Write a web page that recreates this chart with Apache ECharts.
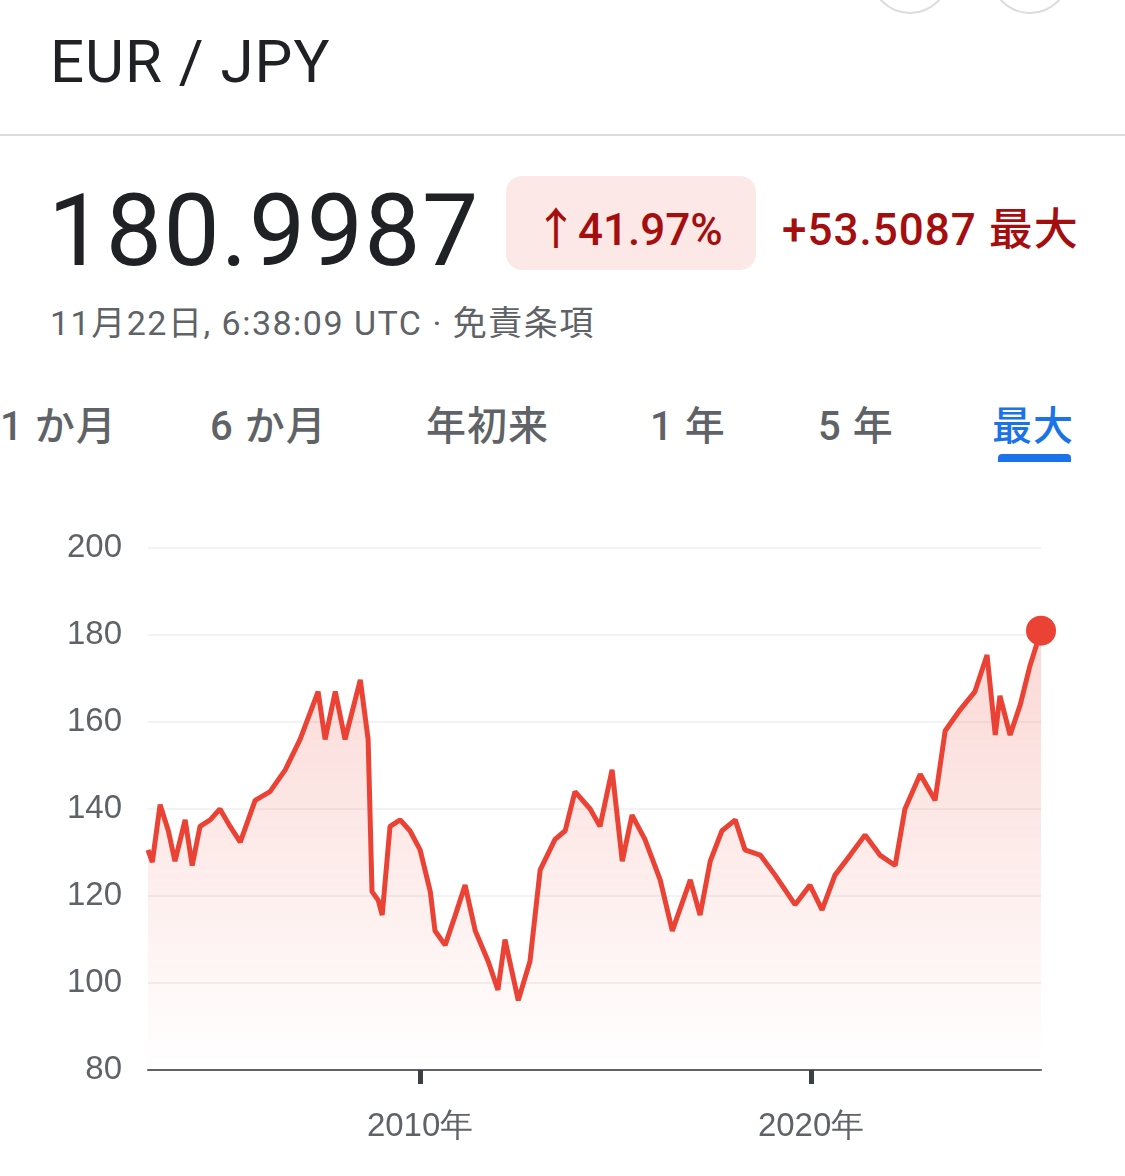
<!DOCTYPE html>
<html><head><meta charset="utf-8">
<script src="https://cdn.jsdelivr.net/npm/echarts@6.0.0/dist/echarts.min.js"></script>
<style>
body{margin:0;width:1125px;height:1176px;background:#fff;font-family:Roboto,"Noto Sans CJK JP",sans-serif;position:relative;overflow:hidden}
.a{position:absolute;white-space:nowrap}
.circ{position:absolute;width:76px;height:76px;border:2px solid #dadce0;border-radius:50%;top:-66px}
.tab{position:absolute;top:394px;font-size:40px;color:#5f6368;font-weight:500;letter-spacing:1px}
</style></head><body>
<div class="circ" style="left:870px"></div><div class="circ" style="left:990px"></div>
<div class="a" style="left:50px;top:26px;font-size:60px;color:#202124;letter-spacing:1px">EUR / JPY</div>
<div class="a" style="left:0;top:134px;width:1125px;height:2px;background:#dadce0"></div>
<div class="a" style="left:48px;top:172px;font-size:100px;color:#202124;letter-spacing:1.5px">180.9987</div>
<div class="a" style="left:506px;top:176px;width:250px;height:94px;border-radius:16px;background:#fce8e6"></div>
<div class="a" style="left:534px;top:194px;font-size:44px;color:#a50e0e;font-weight:500">↑41.97%</div>
<div class="a" style="left:782px;top:194px;font-size:44px;color:#a50e0e;font-weight:500;letter-spacing:1px">+53.5087 最大</div>
<div class="a" style="left:50px;top:296px;font-size:34px;color:#5f6368;letter-spacing:1.5px">11月22日, 6:38:09 UTC · 免責条項</div>
<div class="tab" style="left:0">1 か月</div>
<div class="tab" style="left:210px">6 か月</div>
<div class="tab" style="left:426px">年初来</div>
<div class="tab" style="left:650px">1 年</div>
<div class="tab" style="left:818px">5 年</div>
<div class="tab" style="left:992px;color:#1a73e8">最大</div>
<div class="a" style="left:998px;top:454px;width:73px;height:8px;border-radius:4px 4px 0 0;background:#1a73e8"></div>
<div id="chart" class="a" style="left:0;top:480px;width:1125px;height:696px"></div>
<script>
var years = [2003.04,2003.15,2003.35,2003.56,2003.73,2003.99,2004.17,2004.37,2004.63,2004.88,2005.14,2005.40,2005.78,2006.16,2006.55,2006.93,2007.39,2007.57,2007.83,2008.08,2008.47,2008.67,2008.77,2008.93,2009.03,2009.23,2009.49,2009.74,2010.0,2010.26,2010.38,2010.64,2010.90,2011.15,2011.41,2011.74,2011.99,2012.17,2012.51,2012.81,2013.07,2013.45,2013.71,2013.96,2014.35,2014.60,2014.91,2015.17,2015.42,2015.75,2016.14,2016.45,2016.91,2017.16,2017.42,2017.72,2018.06,2018.31,2018.70,2019.08,2019.59,2019.97,2020.28,2020.61,2021.0,2021.38,2021.76,2022.15,2022.40,2022.79,2023.17,2023.43,2023.81,2024.19,2024.50,2024.71,2024.83,2025.09,2025.35,2025.60,2025.88];
var rates = [130.6,127.8,141,135,128,137.5,127,136,137.5,140,136,132.4,142,144,149,156,167,156,167,156,169.7,156,121,119,115.6,136,137.5,135,130.6,121,112,108.7,115.6,122.5,112,105,98.4,110,96,105,126,133,135,144,140,136,149,128,138.6,133,123.7,112,123.7,115.6,128,135,137.5,130.6,129.4,124.8,118,122.5,116.8,124.8,129.4,134,129.4,127,140,148,142,158,162.8,167,175.4,157,166,157,164,173,181];
var yTicks = [80,100,120,140,160,180,200];
var xTicks = [2010,2020];
var red = '#ea4335';
var chart = echarts.init(document.getElementById('chart'));
chart.setOption({
  animation:false,
  grid:{left:148,right:84,top:68,bottom:106},
  xAxis:{type:'value',min:years[0],max:years[years.length-1],
    axisLine:{lineStyle:{color:'#5f6368',width:2}},
    axisTick:{show:true,customValues:xTicks,length:14,lineStyle:{color:'#3c4043',width:5}},
    axisLabel:{customValues:xTicks,formatter:function(v){return v+'年';},color:'#5f6368',fontSize:33,margin:40},
    splitLine:{show:false}},
  yAxis:{type:'value',min:yTicks[0],max:yTicks[yTicks.length-1],interval:20,
    axisLine:{show:false},axisTick:{show:false},
    axisLabel:{color:'#5f6368',fontSize:33,margin:26},
    splitLine:{lineStyle:{color:'#f1f3f4',width:2}}},
  series:[{type:'line',data:years.map(function(y,i){return [y,rates[i]];}),
    showSymbol:false,lineStyle:{color:red,width:5},
    areaStyle:{color:new echarts.graphic.LinearGradient(0,0,0,1,[{offset:0,color:'rgba(234,67,53,0.3)'},{offset:1,color:'rgba(234,67,53,0)'}])},
    markPoint:{symbol:'circle',symbolSize:30,itemStyle:{color:red},label:{show:false},
      data:[{coord:[years[years.length-1],rates[rates.length-1]]}]}}]
});
</script></body></html>
